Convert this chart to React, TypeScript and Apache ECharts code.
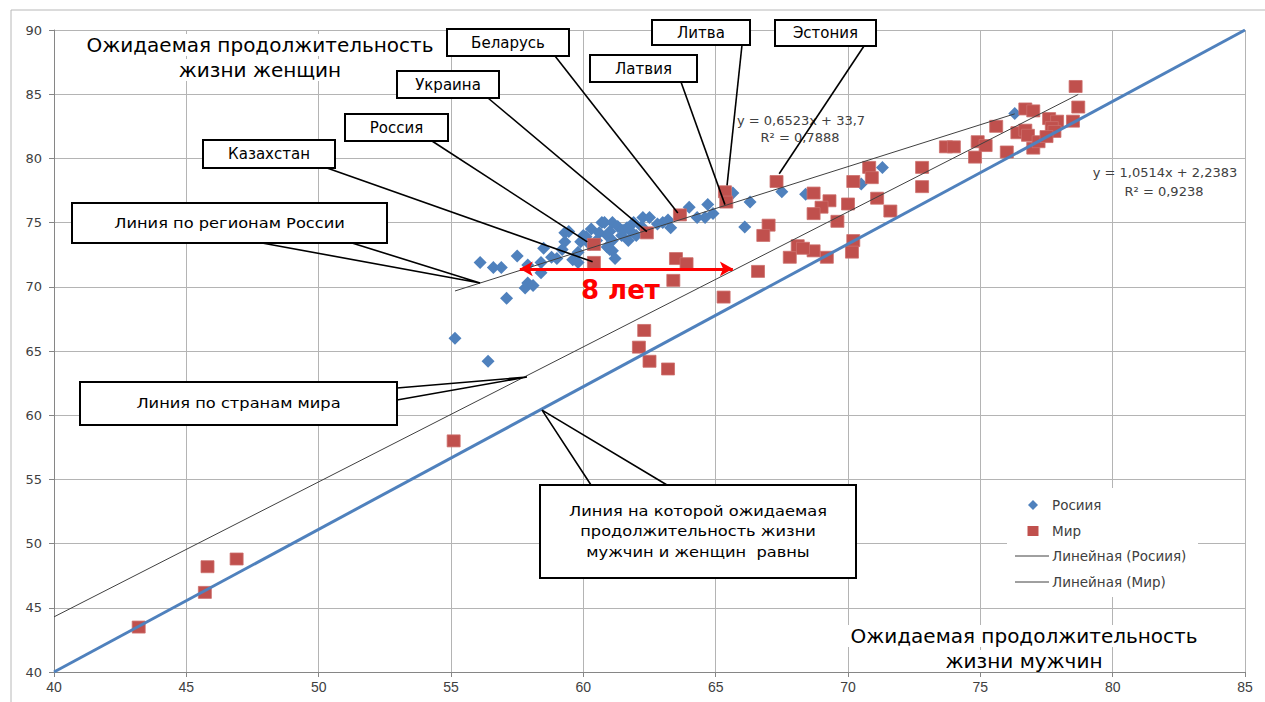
import React, { useEffect, useRef } from "react";
import * as echarts from "echarts";

// ---------- data ----------
const russiaRegions: number[][] = [
  [55.15, 66.0], [56.4, 64.2], [56.1, 71.9], [56.6, 71.5], [56.9, 71.5], [57.5, 72.4], [57.1, 69.1],
  [57.9, 71.7], [57.9, 70.3], [57.8, 69.9], [58.1, 70.1], [58.4, 71.1], [58.4, 71.9], [58.5, 73.0],
  [58.8, 72.3], [59.0, 72.2], [59.2, 72.9], [59.3, 73.5], [59.3, 74.2], [59.6, 72.1], [59.8, 71.9],
  [59.8, 72.7], [60.1, 73.9], [60.25, 73.3], [60.7, 75.0], [60.6, 74.2], [60.9, 74.0], [61.1, 72.8],
  [61.2, 72.2], [60.8, 75.0], [61.1, 75.0], [61.3, 74.7], [61.65, 74.6], [61.9, 75.0], [62.25, 75.4],
  [62.5, 75.4], [63.0, 75.0], [63.2, 75.2], [63.3, 74.6], [62.0, 74.0], [61.45, 74.0], [61.0, 74.3],
  [61.1, 73.6], [61.7, 73.6], [60.9, 73.1], [61.0, 72.9], [64.0, 76.2], [64.7, 76.4], [65.65, 77.3],
  [66.3, 76.6], [66.1, 74.65], [64.3, 75.4], [64.6, 75.4], [64.9, 75.7], [67.5, 77.4], [68.4, 77.2],
  [70.5, 78.0], [71.3, 79.3], [76.3, 83.5], [60.3, 74.5], [59.9, 73.5], [60.5, 73.6], [61.5, 74.4],
  [62.2, 74.7], [62.8, 74.9], [60.0, 74.0], [61.8, 74.3], [59.45, 74.3]
];

const worldCountries: number[][] = [
  [43.2, 43.5], [45.7, 46.2], [45.8, 48.2], [46.9, 48.8], [55.1, 58.0], [62.1, 65.3], [62.3, 66.6],
  [62.5, 64.2], [63.2, 63.6], [63.4, 70.5], [63.5, 72.2], [63.9, 71.8], [65.3, 69.2], [66.6, 71.2],
  [67.8, 72.3], [60.4, 73.3], [60.4, 71.9], [62.4, 74.2], [63.65, 75.6], [65.35, 77.4], [65.4, 76.6],
  [67.3, 78.2], [68.7, 77.3], [69.3, 76.7], [69.0, 76.2], [68.7, 75.7], [70.0, 76.45], [69.6, 75.1],
  [67.0, 74.8], [66.8, 74.0], [70.2, 78.2], [70.8, 79.3], [70.9, 78.5], [71.1, 76.9], [71.6, 75.9],
  [72.8, 79.3], [72.8, 77.8], [70.2, 73.6], [70.15, 72.7], [68.1, 73.2], [68.7, 72.8], [69.2, 72.3],
  [68.3, 73.0], [78.6, 85.6], [78.7, 84.0], [78.5, 82.9], [76.7, 83.85], [77.0, 83.7], [77.6, 83.1],
  [77.9, 82.9], [77.7, 82.4], [76.4, 82.0], [76.7, 82.2], [76.8, 81.8], [77.8, 82.1], [77.0, 80.8],
  [77.2, 81.3], [77.5, 81.7], [76.0, 80.5], [75.6, 82.5], [74.9, 81.3], [75.2, 81.0], [74.8, 80.1],
  [73.7, 80.9], [74.0, 80.9]
];

const xRange = [40, 85];
const yRange = [40, 90];
const tickStep = 5;

const russiaTrendCoef = [0.6523, 33.7];
const russiaTrendX = [55.15, 76.3];
const worldTrendCoef = [1.0514, 2.2383];
const worldTrendX = [40, 78.7];
const equalityLine = [[40, 40], [85, 90]];

const seriesNames = ["Росиия", "Мир", "Линейная (Росиия)", "Линейная (Мир)"];
const russiaEquation = ["y = 0,6523x + 33,7", "R² = 0,7888"];
const worldEquation = ["y = 1,0514x + 2,2383", "R² = 0,9238"];

const yTitle = ["Ожидаемая продолжительность", "жизни женщин"];
const xTitle = ["Ожидаемая продолжительность", "жизни мужчин"];

const gapArrow = [[57.6, 71.4], [65.65, 71.4]];
const gapLabel = "8 лет";
const gapLabelPos = [61.4, 69.75];

const countryLabels = ["Казахстан", "Россия", "Украина", "Беларусь", "Латвия", "Литва", "Эстония"];
const countryTargets = [
  [60.35, 71.95], [60.15, 73.5], [62.4, 74.3], [63.57, 75.75], [65.35, 76.4], [65.43, 77.9], [67.4, 78.8]
];

const calloutTexts = [
  ["Линия по регионам России"],
  ["Линия по странам мира"],
  ["Линия на которой ожидаемая", "продолжительность жизни", "мужчин и женщин  равны"]
];
const calloutTargets = [[56.1, 70.3], [57.87, 62.97], [58.44, 60.4]];

// ---------- layout (pixels) ----------
// [x, y, w, h, anchorX, anchorY]
const countryBoxes = [
  [203, 140, 132, 28, 327, 168],
  [345, 114, 103, 27, 432, 141],
  [397, 71, 102, 27, 488, 98],
  [447, 29, 122, 27, 555, 56],
  [590, 55, 107, 27, 681, 82],
  [652, 20, 98, 25, 742, 45],
  [775, 20, 101, 26, 864, 46]
];
const calloutBoxes = [
  { box: [72, 203, 315, 40], base: [[262, 243], [352, 243]] },
  { box: [80, 382, 317, 43], base: [[397, 388], [397, 400]] },
  { box: [540, 485, 316, 93], base: [[591, 485], [667, 485]] }
];
const legendBox = [1007, 488, 191, 109];
const legendRowsY = [505, 531, 556, 582];

const FONT = '"DejaVu Sans", sans-serif';
const BLUE = "#4F81BD";
const RED = "#C0504D";
const TREND = "#404040";

export default function App() {
  const ref = useRef<HTMLDivElement>(null);

  useEffect(() => {
    if (!ref.current) return;
    const chart = echarts.init(ref.current, undefined, { renderer: "svg" });

    const trend = (coef: number[], xs: number[]) => xs.map((x) => [x, coef[0] * x + coef[1]]);

    chart.setOption({
      animation: false,
      backgroundColor: "#fff",
      grid: { left: 54, right: 20, top: 30, bottom: 30, containLabel: false },
      xAxis: {
        type: "value",
        min: xRange[0],
        max: xRange[1],
        interval: tickStep,
        axisLine: { show: true, lineStyle: { color: "#868686", width: 1 } },
        axisTick: { show: true, length: 5, lineStyle: { color: "#868686" } },
        axisLabel: { color: "#404040", fontSize: 14, fontFamily: '"Liberation Sans Narrow", "Liberation Sans", sans-serif', margin: 8 },
        splitLine: { show: true, lineStyle: { color: "#b4b4b4", width: 1 } }
      },
      yAxis: {
        type: "value",
        min: yRange[0],
        max: yRange[1],
        interval: tickStep,
        axisLine: { show: true, lineStyle: { color: "#868686", width: 1 } },
        axisTick: { show: true, length: 5, lineStyle: { color: "#868686" } },
        axisLabel: { color: "#404040", fontSize: 13, fontFamily: FONT, margin: 12 },
        splitLine: { show: true, lineStyle: { color: "#b4b4b4", width: 1 } }
      },
      series: [
        {
          name: seriesNames[0],
          type: "scatter",
          symbol: "diamond",
          symbolSize: 13,
          itemStyle: { color: BLUE, opacity: 1 },
          data: russiaRegions,
          z: 2
        },
        {
          name: seriesNames[1],
          type: "scatter",
          symbol: "rect",
          symbolSize: [13, 12],
          itemStyle: { color: RED, opacity: 1, borderColor: "#cd6f6c", borderWidth: 0.8 },
          data: worldCountries,
          z: 3
        },
        {
          name: seriesNames[2],
          type: "line",
          symbol: "none",
          lineStyle: { color: TREND, width: 1 },
          itemStyle: { color: TREND },
          data: trend(russiaTrendCoef, russiaTrendX),
          z: 4
        },
        {
          name: seriesNames[3],
          type: "line",
          symbol: "none",
          lineStyle: { color: TREND, width: 1 },
          itemStyle: { color: TREND },
          data: trend(worldTrendCoef, worldTrendX),
          z: 4
        },
        {
          name: "equality",
          type: "line",
          symbol: "none",
          lineStyle: { color: BLUE, width: 3 },
          itemStyle: { color: BLUE },
          data: equalityLine,
          z: 5,
          markLine: {
            silent: true,
            symbol: ["arrow", "arrow"],
            symbolSize: [11, 13],
            label: { show: false },
            lineStyle: { color: "#ff0000", width: 3, type: "solid" },
            data: [[{ coord: gapArrow[0] }, { coord: gapArrow[1] }]]
          }
        }
      ]
    });

    const px = (p: number[]) => chart.convertToPixel({ gridIndex: 0 } as any, p) as number[];

    const g: any[] = [];
    g.push({
      type: "rect",
      silent: true,
      z: 1,
      shape: { x: 11, y: 10, width: 1300, height: 800 },
      style: { fill: "none", stroke: "#b8b8b8", lineWidth: 1 }
    });

    const title = (text: string, x: number, y: number) => ({
      type: "text",
      x,
      y,
      z: 50,
      style: {
        text,
        fill: "#000",
        font: `20px ${FONT}`,
        align: "center",
        verticalAlign: "middle",
        backgroundColor: "#fff",
        padding: [1, 3]
      }
    });
    g.push(title(yTitle[0], 260, 45), title(yTitle[1], 260, 70));
    g.push(title(xTitle[0], 1024, 636), title(xTitle[1], 1024, 661));

    const eq = (text: string, x: number, y: number) => ({
      type: "text",
      x,
      y,
      z: 50,
      style: { text, fill: "#404040", font: `13px ${FONT}`, align: "center", verticalAlign: "middle" }
    });
    g.push(eq(russiaEquation[0], 801, 120), eq(russiaEquation[1], 800, 137));
    g.push(eq(worldEquation[0], 1165, 172), eq(worldEquation[1], 1164, 191));

    // legend
    const [lx, ly, lw, lh] = legendBox;
    g.push({
      type: "rect",
      z: 40,
      silent: true,
      shape: { x: lx, y: ly, width: lw, height: lh },
      style: { fill: "#fff", stroke: "none" }
    });
    const mx = lx + 26;
    g.push({
      type: "polygon",
      z: 41,
      shape: { points: [[mx, legendRowsY[0] - 5], [mx + 5, legendRowsY[0]], [mx, legendRowsY[0] + 5], [mx - 5, legendRowsY[0]]] },
      style: { fill: BLUE }
    });
    g.push({
      type: "rect",
      z: 41,
      shape: { x: mx - 5.5, y: legendRowsY[1] - 5, width: 11, height: 10 },
      style: { fill: RED }
    });
    [2, 3].forEach((k) => {
      g.push({
        type: "line",
        z: 41,
        shape: { x1: lx + 8, y1: legendRowsY[k], x2: lx + 42, y2: legendRowsY[k] },
        style: { stroke: TREND, lineWidth: 1 }
      });
    });
    seriesNames.forEach((name, k) => {
      g.push({
        type: "text",
        z: 41,
        x: lx + 45,
        y: legendRowsY[k],
        style: { text: name, fill: "#404040", font: `13.5px ${FONT}`, align: "left", verticalAlign: "middle" }
      });
    });

    // red gap label
    const gp = px(gapLabelPos);
    g.push({
      type: "text",
      x: gp[0],
      y: gp[1],
      z: 50,
      style: {
        text: gapLabel,
        fill: "#ff0000",
        font: `bold 26px ${FONT}`,
        align: "center",
        verticalAlign: "middle"
      }
    });

    // wedge callouts
    calloutBoxes.forEach((c, i) => {
      const t = px(calloutTargets[i]);
      g.push({
        type: "polyline",
        z: 60,
        silent: true,
        shape: { points: [c.base[0], t, c.base[1]] },
        style: { stroke: "#000", lineWidth: 1.6, fill: "none" }
      });
      const [bx, by, bw, bh] = c.box;
      g.push({
        type: "rect",
        z: 61,
        silent: true,
        shape: { x: bx, y: by, width: bw, height: bh },
        style: { fill: "#fff", stroke: "#000", lineWidth: 2 }
      });
      const lines = calloutTexts[i];
      const lh2 = 20.5;
      const cy = by + bh / 2;
      lines.forEach((ln, k) => {
        g.push({
          type: "text",
          z: 62,
          x: bx + bw / 2,
          y: cy + (k - (lines.length - 1) / 2) * lh2,
          scaleX: 1.16,
          style: { text: ln, fill: "#000", font: `14px ${FONT}`, align: "center", verticalAlign: "middle" }
        });
      });
    });

    // country labels
    countryLabels.forEach((name, i) => {
      const [bx, by, bw, bh, ax, ay] = countryBoxes[i];
      const t = px(countryTargets[i]);
      g.push({
        type: "line",
        z: 60,
        silent: true,
        shape: { x1: ax, y1: ay, x2: t[0], y2: t[1] },
        style: { stroke: "#000", lineWidth: 1.6 }
      });
      g.push({
        type: "rect",
        z: 61,
        silent: true,
        shape: { x: bx, y: by, width: bw, height: bh },
        style: { fill: "#fff", stroke: "#000", lineWidth: 2 }
      });
      g.push({
        type: "text",
        z: 62,
        x: bx + bw / 2,
        y: by + bh / 2,
        style: { text: name, fill: "#000", font: `15px ${FONT}`, align: "center", verticalAlign: "middle" }
      });
    });

    chart.setOption({ graphic: g });

    return () => chart.dispose();
  }, []);

  return (
    <div
      ref={ref}
      style={{ position: "absolute", left: 0, top: 0, width: 1265, height: 702 }}
    />
  );
}
